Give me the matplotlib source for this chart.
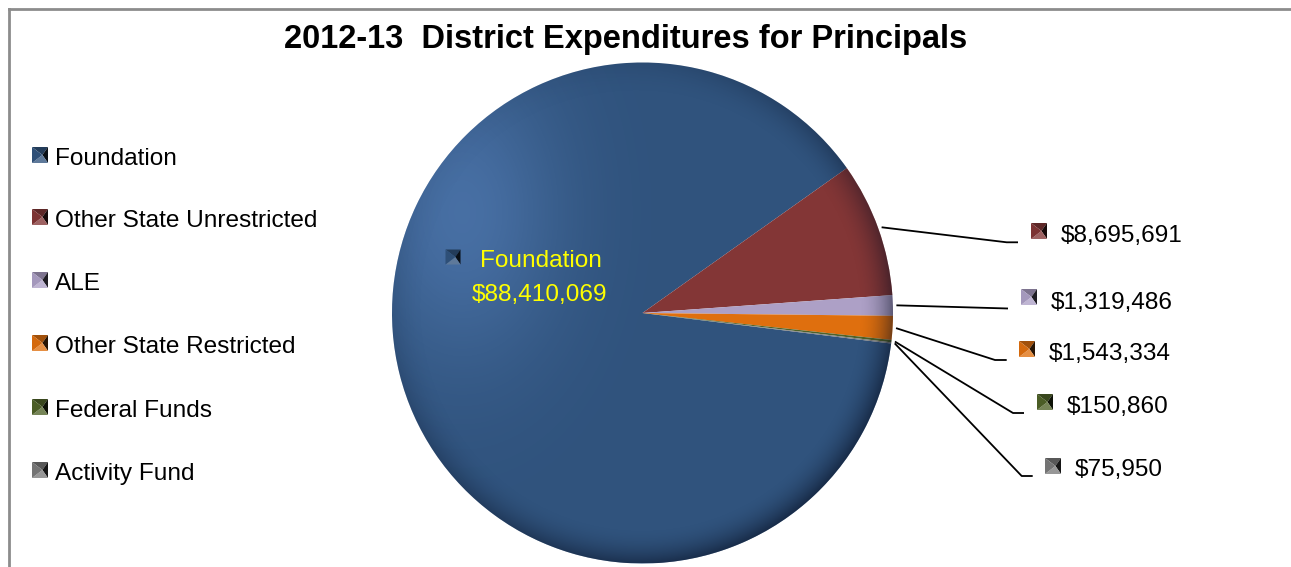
import numpy as np
import matplotlib
matplotlib.use("Agg")
import matplotlib.pyplot as plt
from matplotlib.patches import Polygon, Circle
from matplotlib.lines import Line2D
from matplotlib import colors as mcolors

# ---- data ----
categories = ["Foundation", "Other State Unrestricted", "ALE",
              "Other State Restricted", "Federal Funds", "Activity Fund"]
amounts = [88410069, 8695691, 1319486, 1543334, 150860, 75950]
slice_colors = ["#30537D", "#833636", "#ADA0C6", "#DF6F0E", "#4F6228", "#7A7A7A"]
chart_title = "2012-13  District Expenditures for Principals"

FONT = ["Liberation Sans Narrow", "Liberation Sans", "DejaVu Sans"]
plt.rcParams["font.family"] = FONT
LABEL_SIZE = 17.6

W, H = 1291, 567
CX, CY, R = 642.5, 313.0, 250.5   # pie centre / radius in pixels


def px(x, y):
    """pixel position (origin top-left) -> data coordinates of the pie axes"""
    return (x - CX) / R, (CY - y) / R


fig = plt.figure(figsize=(W / 100, H / 100), dpi=100)
ax = fig.add_axes([0, 0, 1, 1])

wedges, _ = ax.pie(amounts, colors=slice_colors, startangle=-7.0,
                   counterclock=False, radius=1.0,
                   wedgeprops=dict(linewidth=0))
ax.set_aspect("equal")
ax.axis("off")

# ---- soft 3-D shading over the pie ----
n = 700
g = np.linspace(-1, 1, n)
X, Y = np.meshgrid(g, g[::-1])
r = np.hypot(X, Y)
ang_dir = np.clip((X - Y) / np.sqrt(2) / np.maximum(r, 1e-6), -1, 1)

hl = np.exp(-(((X + 0.72) ** 2) / (2 * 0.28 ** 2) + ((Y - 0.40) ** 2) / (2 * 0.42 ** 2)))
light = np.zeros((n, n, 4))
light[..., 0], light[..., 1], light[..., 2] = 0.50, 0.70, 1.0
light[..., 3] = 0.30 * hl

rim = np.clip((r - 0.86) / 0.14, 0, 1) ** 2
dark = np.zeros((n, n, 4))
dark[..., 0], dark[..., 1], dark[..., 2] = 0.02, 0.05, 0.12
dark[..., 3] = 0.55 * rim * np.clip(0.05 + 0.95 * (0.5 + 0.5 * ang_dir), 0, 1)

clip = Circle((0, 0), 1.0, transform=ax.transData)
for layer in (light, dark):
    im = ax.imshow(layer, extent=(-1, 1, -1, 1), origin="upper",
                   interpolation="bilinear", zorder=3)
    im.set_clip_path(clip)
ax.set_xlim(-CX / R, (W - CX) / R)
ax.set_ylim(-(H - CY) / R, CY / R)


def bevel(cx, cy, color, s=16, zorder=6):
    """small bevelled square marker centred at pixel (cx, cy)"""
    base = np.array(mcolors.to_rgb(color))
    h = s / 2.0
    c = (cx + s * 0.15, cy)
    tl, tr, br, bl = (cx - h, cy - h), (cx + h, cy - h), (cx + h, cy + h), (cx - h, cy + h)
    faces = [
        ([tl, tr, c], base * 0.72),
        ([tr, br, c], base * 0.18),
        ([br, bl, c], base + (1 - base) * 0.22),
        ([bl, tl, c], base * 0.95),
    ]
    for pts, col in faces:
        ax.add_patch(Polygon([px(*p) for p in pts], closed=True,
                             facecolor=np.clip(col, 0, 1), edgecolor="none",
                             zorder=zorder))


# ---- title ----
ax.text(*px(625.5, 48), chart_title, ha="center", va="baseline",
        fontsize=23.5, fontweight="bold", color="black")

# ---- legend (left) ----
legend_baselines = [165, 227, 290, 353, 417, 480]
for name, col, yb in zip(categories, slice_colors, legend_baselines):
    bevel(40, yb - 10, col)
    ax.text(*px(55, yb), name, ha="left", va="baseline", fontsize=LABEL_SIZE, color="black")

# ---- label inside the largest slice ----
bevel(453, 257, slice_colors[0], s=15)
ax.text(*px(541, 267), categories[0], ha="center", va="baseline",
        fontsize=LABEL_SIZE, color="#FFFF00", zorder=7)
ax.text(*px(540, 300.5), f"${amounts[0]:,}", ha="center", va="baseline",
        fontsize=LABEL_SIZE, color="#FFFF00", zorder=7)

# ---- outside value labels with leader lines ----
knees = [(1006.7, 242.3), (1008.0, 308.5), (995.0, 360.0), (1013.0, 413.0), (1021.7, 476.0)]
line_ends = [(1018.0, 242.3), (1008.0, 308.5), (1006.7, 360.0), (1024.0, 413.0), (1032.7, 476.0)]
text_left = [1060.7, 1050.7, 1049.0, 1066.7, 1075.0]
marker_pos = [(1039, 231), (1029, 297), (1027, 349), (1045, 402), (1053, 466)]

for i in range(1, len(amounts)):
    w = wedges[i]
    mid = np.deg2rad(0.5 * (w.theta1 + w.theta2))
    sx, sy = 1.014 * np.cos(mid), 1.014 * np.sin(mid)
    kx, ky = px(*knees[i - 1])
    ex, ey = px(*line_ends[i - 1])
    ax.plot([sx, kx, ex], [sy, ky, ey], color="black", lw=1.3,
            solid_capstyle="butt", zorder=5)
    bevel(*marker_pos[i - 1], slice_colors[i])
    ax.text(*px(text_left[i - 1], knees[i - 1][1]), f"${amounts[i]:,}",
            ha="left", va="baseline", fontsize=LABEL_SIZE, color="black")

# ---- chart area frame ----
fig.add_artist(Line2D([8.5 / W, 8.5 / W], [0, 1 - 8.5 / H], transform=fig.transFigure,
                      color="#8C8C8C", lw=2.0))
fig.add_artist(Line2D([8.5 / W, 1], [1 - 8.5 / H, 1 - 8.5 / H], transform=fig.transFigure,
                      color="#8C8C8C", lw=2.0))

fig.savefig("out.png", dpi=100, facecolor="white")
